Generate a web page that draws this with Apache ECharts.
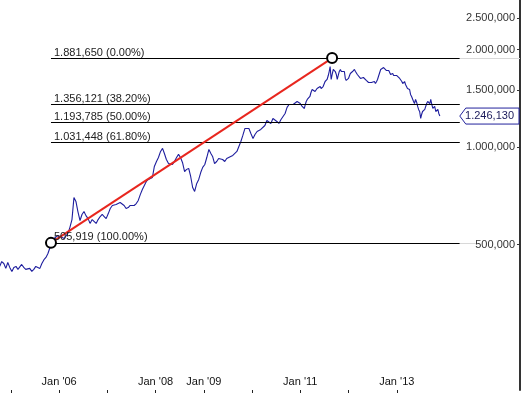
<!DOCTYPE html>
<html><head><meta charset="utf-8">
<script src="https://cdn.jsdelivr.net/npm/echarts@6/dist/echarts.min.js"></script>
<style>html,body{margin:0;padding:0;background:#fff}#c{width:521px;height:393px}</style>
</head><body><div id="c"></div>
<script>
const dates = [
'2004-10-08','2004-10-23','2004-11-08','2004-11-23','2004-12-08','2004-12-23',
'2005-01-08','2005-01-23','2005-02-08','2005-02-23','2005-03-08','2005-03-23','2005-04-08','2005-04-23','2005-05-08','2005-05-23','2005-06-08','2005-06-23','2005-07-08','2005-07-23','2005-08-08','2005-08-23','2005-09-08','2005-09-23','2005-10-08','2005-10-23','2005-11-08','2005-11-23','2005-12-08','2005-12-23',
'2006-01-08','2006-01-23','2006-02-08','2006-02-23','2006-03-08','2006-03-23','2006-04-08','2006-04-23','2006-05-08','2006-05-23','2006-06-08','2006-06-23','2006-07-08','2006-07-23','2006-08-08','2006-08-23','2006-09-08','2006-09-23','2006-10-08','2006-10-23','2006-11-08','2006-11-23','2006-12-08','2006-12-23',
'2007-01-08','2007-01-23','2007-02-08','2007-02-23','2007-03-08','2007-03-23','2007-04-08','2007-04-23','2007-05-08','2007-05-23','2007-06-08','2007-06-23','2007-07-08','2007-07-23','2007-08-08','2007-08-23','2007-09-08','2007-09-23','2007-10-08','2007-10-23','2007-11-08','2007-11-23','2007-12-08','2007-12-23',
'2008-01-08','2008-01-23','2008-02-08','2008-02-23','2008-03-08','2008-03-23','2008-04-08','2008-04-23','2008-05-08','2008-05-23','2008-06-08','2008-06-23','2008-07-08','2008-07-23','2008-08-08','2008-08-23','2008-09-08','2008-09-23','2008-10-08','2008-10-23','2008-11-08','2008-11-23','2008-12-08','2008-12-23',
'2009-01-08','2009-01-23','2009-02-08','2009-02-23','2009-03-08','2009-03-23','2009-04-08','2009-04-23','2009-05-08','2009-05-23','2009-06-08','2009-06-23','2009-07-08','2009-07-23','2009-08-08','2009-08-23','2009-09-08','2009-09-23','2009-10-08','2009-10-23','2009-11-08','2009-11-23','2009-12-08','2009-12-23',
'2010-01-08','2010-01-23','2010-02-08','2010-02-23','2010-03-08','2010-03-23','2010-04-08','2010-04-23','2010-05-08','2010-05-23','2010-06-08','2010-06-23','2010-07-08','2010-07-23','2010-08-08','2010-08-23','2010-09-08','2010-09-23','2010-10-08','2010-10-23','2010-11-08','2010-11-23','2010-12-08','2010-12-23',
'2011-01-01','2011-01-08','2011-01-15','2011-01-23','2011-02-01','2011-02-08','2011-02-15','2011-02-23','2011-03-01','2011-03-08','2011-03-15','2011-03-23','2011-04-01','2011-04-08','2011-04-15','2011-04-23','2011-05-01','2011-05-08','2011-05-15','2011-05-23','2011-06-01','2011-06-08','2011-06-15','2011-06-23','2011-07-01','2011-07-08','2011-07-15','2011-07-23','2011-08-01','2011-08-08','2011-08-15','2011-08-23','2011-09-01','2011-09-08','2011-09-15','2011-09-23','2011-10-01','2011-10-08','2011-10-15','2011-10-23','2011-11-01','2011-11-08','2011-11-15','2011-11-23','2011-12-01','2011-12-08','2011-12-15','2011-12-23',
'2012-01-01','2012-01-08','2012-01-15','2012-01-23','2012-02-01','2012-02-08','2012-02-15','2012-02-23','2012-03-01','2012-03-08','2012-03-15','2012-03-23','2012-04-01','2012-04-08','2012-04-15','2012-04-23','2012-05-01','2012-05-08','2012-05-15','2012-05-23','2012-06-01','2012-06-08','2012-06-15','2012-06-23','2012-07-01','2012-07-08','2012-07-15','2012-07-23','2012-08-01','2012-08-08','2012-08-15','2012-08-23','2012-09-01','2012-09-08','2012-09-15','2012-09-23','2012-10-01','2012-10-08','2012-10-15','2012-10-23','2012-11-01','2012-11-08','2012-11-15','2012-11-23','2012-12-01','2012-12-08','2012-12-15','2012-12-23',
'2013-01-01','2013-01-08','2013-01-15','2013-01-23','2013-02-01','2013-02-08','2013-02-15','2013-02-23','2013-03-01','2013-03-08','2013-03-15','2013-03-23','2013-04-01','2013-04-08','2013-04-15','2013-04-23','2013-05-01','2013-05-08','2013-05-15','2013-05-23','2013-06-01','2013-06-08','2013-06-15','2013-06-23','2013-07-01','2013-07-08','2013-07-15','2013-07-23','2013-08-01','2013-08-08','2013-08-15','2013-08-23','2013-09-01','2013-09-08','2013-09-15','2013-09-23','2013-10-01','2013-10-08','2013-10-15','2013-10-23','2013-11-01','2013-11-08','2013-11-15','2013-11-23'
];
const values = [
428000,443000,437000,422000,440000,425000,
413000,425000,428000,419000,422000,434000,425000,419000,422000,422000,413000,419000,428000,425000,422000,437000,449000,456000,469000,463000,511000,522000,529000,533000,
529000,525000,522000,525000,541000,564000,597000,698000,679000,632000,593000,619000,632000,614000,601000,581000,597000,589000,581000,597000,610000,619000,610000,601000,
623000,646000,660000,669000,665000,665000,674000,669000,660000,646000,650000,660000,665000,660000,669000,684000,714000,739000,761000,783000,794000,783000,805000,871000,
902000,928000,969000,990000,955000,915000,889000,877000,883000,902000,928000,949000,928000,896000,840000,853000,859000,811000,750000,729000,772000,794000,834000,865000,
883000,928000,983000,955000,935000,889000,902000,922000,935000,915000,902000,922000,928000,935000,942000,949000,969000,1004000,1040000,1086000,1141000,1157000,1141000,1101000,
1063000,1093000,1117000,1117000,1133000,1141000,1165000,1207000,1207000,1182000,1225000,1242000,1199000,1182000,1216000,1225000,1269000,1325000,1353000,1362000,1353000,1372000,1382000,1382000,
1362000,1353000,1334000,1325000,1315000,1353000,1382000,1402000,1412000,1422000,1432000,1473000,1505000,1515000,1515000,1484000,1505000,1515000,1505000,1505000,1537000,1515000,1505000,1537000,1559000,1593000,1605000,1616000,1662000,1710000,1772000,1616000,1686000,1735000,1747000,1710000,1674000,1616000,1662000,1710000,1735000,1710000,1686000,1698000,1710000,1628000,1605000,1593000,
1628000,1651000,1686000,1698000,1710000,1722000,1735000,1710000,1686000,1674000,1662000,1651000,1628000,1628000,1616000,1639000,1651000,1616000,1605000,1593000,1582000,1570000,1593000,1582000,1570000,1582000,1593000,1570000,1593000,1616000,1651000,1674000,1735000,1747000,1747000,1759000,1772000,1735000,1722000,1710000,1722000,1735000,1674000,1686000,1686000,1662000,1651000,1674000,
1662000,1651000,1639000,1628000,1616000,1593000,1570000,1582000,1593000,1559000,1537000,1515000,1505000,1505000,1453000,1432000,1412000,1382000,1362000,1402000,1372000,1334000,1306000,1287000,1225000,1260000,1287000,1297000,1306000,1334000,1362000,1382000,1372000,1362000,1402000,1353000,1315000,1325000,1334000,1287000,1297000,1306000,1269000,1246130
];
const fibLevels = [1881650, 1356121, 1193785, 1031448, 505919];
const fibLabels = ['1.881,650 (0.00%)', '1.356,121 (38.20%)', '1.193,785 (50.00%)', '1.031,448 (61.80%)', '505,919 (100.00%)'];
const swingLowDate = '2005-10-31', swingLowValue = 505919;
const swingHighDate = '2011-08-30', swingHighValue = 1881650;
const fibEndDate = '2014-04-23';
const xMinDate = '2004-10-10', xMaxDate = '2015-07-23';
const yMin = 177800, yMax = 2843000;
const yTickValues = [500000, 1000000, 1500000, 2000000, 2500000];
const yTickLabels = ['500,000', '1.000,000', '1.500,000', '2.000,000', '2.500,000'];
const xTickDates = ['2005-01-01','2006-01-01','2007-01-01','2008-01-01','2009-01-01','2010-01-01','2011-01-01','2012-01-01','2013-01-01'];
const xLabelDates = ['2006-01-01','2008-01-01','2009-01-01','2011-01-01','2013-01-01'];
const xLabelTexts = ["Jan '06","Jan '08","Jan '09","Jan '11","Jan '13"];
const lastLabel = '1.246,130';

function ts(s){ const p = s.split('-').map(Number); return Date.UTC(p[0], p[1]-1, p[2]); }
const FONT = 'Liberation Sans, Arial, sans-serif';
const seriesData = dates.map((d,i)=>[ts(d), values[i]]);
const xLabelTs = xLabelDates.map(ts);

const mlData = [];
fibLevels.forEach((lvl,i)=>{
  mlData.push([{coord:[ts(swingLowDate), lvl], lineStyle:{color:'#000', width:1, type:'solid'},
    label:{show:true, formatter:fibLabels[i], position:'insideStartTop', distance:[3,0], color:'#222', fontSize:11, fontFamily:FONT}},
    {coord:[ts(fibEndDate), lvl]}]);
});
mlData.push([{coord:[ts(fibEndDate), fibLevels[0]], lineStyle:{color:'#d8d8d8', width:1, type:'solid'}, label:{show:false}}, {coord:[ts(xMaxDate), fibLevels[0]]}]);
mlData.push([{coord:[ts(fibEndDate), fibLevels[4]], lineStyle:{color:'#d8d8d8', width:1, type:'solid'}, label:{show:false}}, {coord:[ts('2014-08-23'), fibLevels[4]]}]);
mlData.push([{coord:[ts(swingLowDate), swingLowValue], lineStyle:{color:'#e8261e', width:2, type:'solid'}, label:{show:false}}, {coord:[ts(swingHighDate), swingHighValue]}]);

const chart = echarts.init(document.getElementById('c'), null, {renderer:'canvas'});
chart.setOption({
  animation:false,
  backgroundColor:'#fff',
  grid:{left:0, right:1, top:0, bottom:3},
  xAxis:{type:'value', min:ts(xMinDate), max:ts(xMaxDate), scale:true,
    axisLine:{show:false}, splitLine:{show:false},
    axisTick:{show:true, inside:false, length:3, lineStyle:{color:'#222'}, customValues:xTickDates.map(ts)},
    axisLabel:{show:true, inside:true, margin:3, color:'#111', fontSize:11, fontFamily:FONT,
      customValues:xLabelTs, formatter:(v)=>{const i=xLabelTs.indexOf(v); return i>=0?xLabelTexts[i]:'';}}},
  yAxis:{type:'log', position:'right', min:yMin, max:yMax,
    axisLine:{show:true, lineStyle:{color:'#333', width:2}}, splitLine:{show:false},
    axisTick:{show:true, inside:true, length:3, lineStyle:{color:'#333'}, customValues:yTickValues},
    axisLabel:{show:true, inside:true, margin:5, color:'#333', fontSize:11, fontFamily:FONT,
      customValues:yTickValues, formatter:(v)=>{for(let i=0;i<yTickValues.length;i++){if(Math.abs(yTickValues[i]-v)/yTickValues[i]<1e-6) return yTickLabels[i];} return '';}}},
  series:[{
    type:'line', data:seriesData, showSymbol:false, symbol:'none',
    lineStyle:{color:'#1e1e9e', width:1.1}, z:3,
    markLine:{silent:true, symbol:['none','none'], animation:false, data:mlData},
    markPoint:{silent:true, animation:false, symbol:'circle', symbolSize:10, z:10,
      itemStyle:{color:'#fff', borderColor:'#000', borderWidth:2}, label:{show:false},
      data:[{coord:[ts(swingLowDate), swingLowValue]}, {coord:[ts(swingHighDate), swingHighValue]}]}
  }]
});

const yPx = chart.convertToPixel({yAxisIndex:0}, values[values.length-1]);
const tipX = chart.convertToPixel({xAxisIndex:0}, ts(fibEndDate));
const rightX = 519;
chart.setOption({graphic:[
  {type:'polygon', z:100, shape:{points:[[tipX, yPx],[tipX+6, yPx-8],[rightX, yPx-8],[rightX, yPx+8],[tipX+6, yPx+8]]},
   style:{fill:'#fff', stroke:'#22229c', lineWidth:1}},
  {type:'text', z:101, x:rightX-5, y:yPx, style:{text:lastLabel, fill:'#1a1a5a', font:'11px '+FONT, textAlign:'right', textVerticalAlign:'middle'}}
]});
</script></body></html>
